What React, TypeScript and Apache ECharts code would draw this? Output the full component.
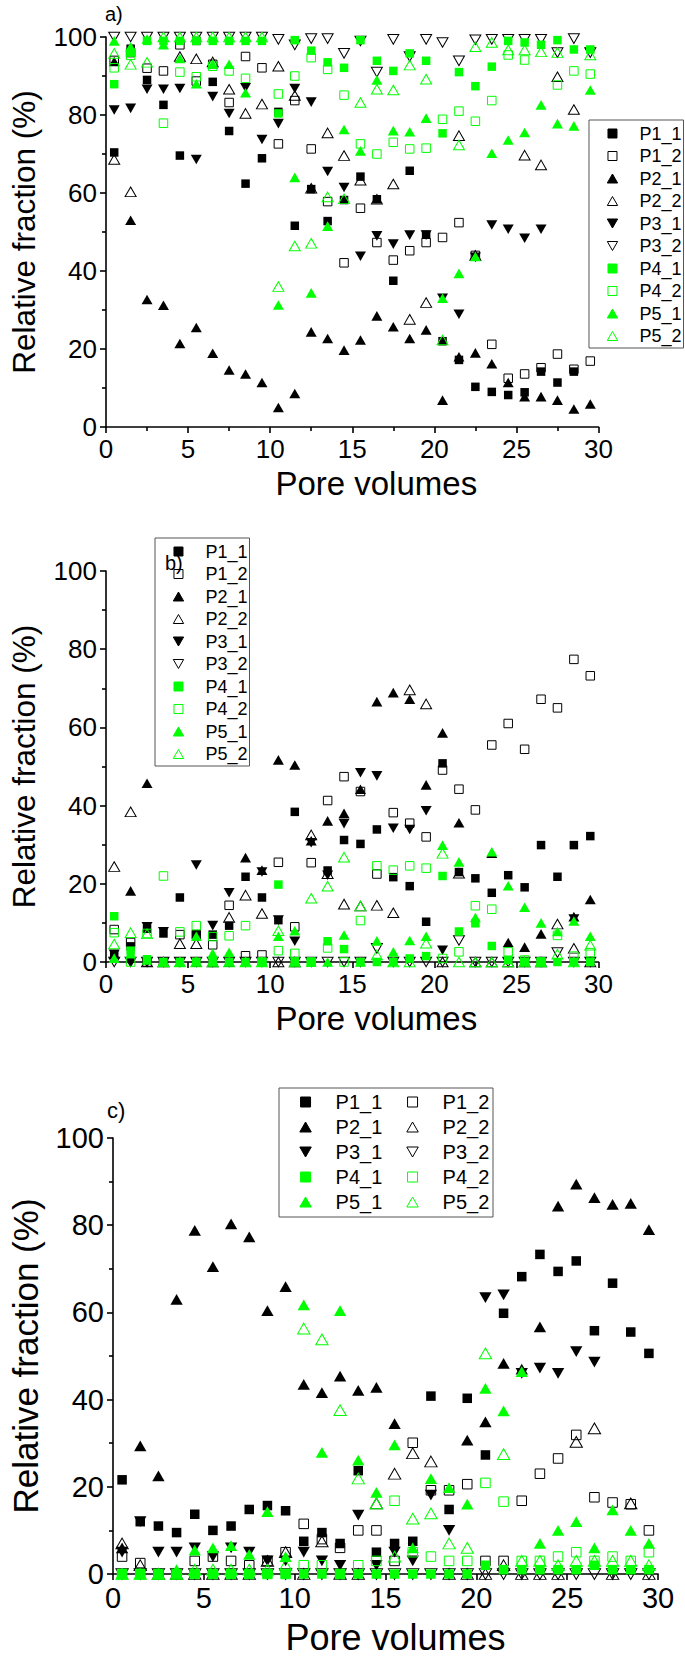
import React, { useEffect, useRef } from 'react';
import * as echarts from 'echarts';

// ---------- data ----------
const poreVolumes = [0.5, 1.5, 2.5, 3.5, 4.5, 5.5, 6.5, 7.5, 8.5, 9.5, 10.5, 11.5, 12.5, 13.5, 14.5, 15.5, 16.5, 17.5, 18.5, 19.5, 20.5, 21.5, 22.5, 23.5, 24.5, 25.5, 26.5, 27.5, 28.5, 29.5];

const seriesNames = ['P1_1', 'P1_2', 'P2_1', 'P2_2', 'P3_1', 'P3_2', 'P4_1', 'P4_2', 'P5_1', 'P5_2'];
const legendColumn1 = ['P1_1', 'P2_1', 'P3_1', 'P4_1', 'P5_1'];
const legendColumn2 = ['P1_2', 'P2_2', 'P3_2', 'P4_2', 'P5_2'];
const panelLabels = ['a)', 'b)', 'c)'];
const xAxisTitle = 'Pore volumes';
const yAxisTitle = 'Relative fraction (%)';

// Panel a
const aP1_1 = [70.4, 97, 89, 82.6, 69.6, 99, 88.5, 75.9, 62.4, 68.9, 80.8, 51.6, 61, 52.8, 58.2, 64.2, 58.4, 37.5, 65.7, 49.3, 22, 17.2, 10.3, 9, 8.2, 8.9, 14.2, 11.4, 14.2, null];
const aP1_2 = [94, 96, 92, 91.3, 98, 88.7, 93, 83.2, 95, 92.1, 72.6, 83.7, 71.3, 57.8, 42.1, 56.1, 47.3, 42.8, 45.2, 47.3, 48.6, 52.4, 44, 21.2, 12.5, 13.6, 15.2, 18.7, 14.8, 16.9];
const aP2_1 = [93.7, 53, 32.7, 31.2, 21.4, 25.5, 18.9, 14.6, 13.6, 11.4, 5, 8.6, 24.4, 22.7, 19.7, 22.3, 28.5, 25.7, 22.7, 24.9, 6.9, 18, 19, 16.2, 11.4, 7.8, 7.8, 6.9, 4.6, 5.9];
const aP2_2 = [68.6, 60.3, null, null, 95, 94.4, 93.6, 86.6, 80.4, 82.8, 92.5, 85, 61.2, 75.4, 69.6, 63.3, 58.4, 62.3, 27.6, 31.9, null, 74.7, 44, null, null, 69.7, 67.2, 89.8, 81.4, null];
const aP3_1 = [81.3, 81.7, 86.6, 86.6, 86.8, 68.6, 84.7, 80.4, 87, 73.7, 77.8, 86.8, 83.3, 65.5, 61.4, 43.8, 49, 46.9, 49.2, 49.2, 33, 28.9, 43.5, 51.8, 50.7, 48.4, 50.7, null, null, null];
const aP3_2 = [100, 100, 100, 100, 100, 100, 100, 100, 100, 100, 99.4, 98, 99.6, 99.6, 95.8, 99, 91, 99.4, 95, 99.4, 98.6, 93.9, 99.3, 99.4, 99.4, 99.4, 99.4, 96, 99.6, 96];
const aP4_1 = [87.9, 96, 99, 99, 99, 99, 99, 99, 99, 99, 80.4, 99.2, 96.5, 93.5, 92.1, 99.2, 93.9, 91.3, 95.8, 93.9, 75.3, 91, 87.4, 92.4, 99, 98.6, 98, 99.2, 96.8, 96.8];
const aP4_2 = [92.1, 95.3, null, 77.9, 91, 89.8, 92.5, 91.3, 89.4, null, 85.4, 90, 94.7, 91.7, 85.1, 72.6, 70, 73, 71.3, 71.5, 78.9, 81, 78.4, 83.7, 95.4, 94.1, null, 87.7, 91.3, 90.5];
const aP5_1 = [99, 97.5, 99.5, 98, 94.5, 88, 93, 93, 85.7, null, 31.3, 64, 34.4, 51.5, 76.3, 70.8, 89, 76, 75.7, 79.2, 33, 39.4, 43.7, 70.2, 73.6, 75.5, 82.6, 77.8, 77.2, 86.4];
const aP5_2 = [95.8, 93, 93.5, 100, 100, 100, 100, 100, 100, 100, 36, 46.4, 47.1, 59, 58.5, 83.2, 86.6, 86.4, 92.8, 89.2, 22.3, 72.3, 97.5, 98.6, 96.7, 96.7, 96.2, 96, null, 95.4];

// Panel b
const bP1_1 = [2, 4, 8.5, 7.3, 16.5, 7, 7, 9.3, 21.8, 16.5, 10.7, 38.4, null, 23.4, 31.2, 30.2, 33.9, 21.7, 19.4, 10.3, 50.8, 23, 21.4, 17.7, 22.2, 19.1, 29.9, 21.8, 29.9, 32.2];
const bP1_2 = [8.3, 5, 0, 0, 7, 7, 4.4, 14.5, 1.6, 1.8, 25.5, 9, 25.4, 41.3, 47.4, 43.6, 22.5, 38.2, 35.5, 32, 49.1, 44.2, 38.9, 55.5, 61, 54.4, 67.2, 65, 77.4, 73.2];
const bP2_1 = [2, 18.2, 45.7, 0, 0, 0, 0, 0, 26.7, 23.5, 51.7, 50.4, 31, 36.1, 38, 44.2, 66.6, 68.9, 67.2, 45.3, 58.6, 35.6, null, 27.8, 5, 3.8, 7.2, null, 11.6, 16];
const bP2_2 = [24.4, 38.4, 0, 0, 4.7, 4.7, 0, 11.4, 17.1, 12.4, 0, 0, 32.5, 22.6, 14.8, 14.3, 14.5, 12.6, 69.6, 66, 0, 22.7, 0, 0, 0, 0, 0, 9.7, 3.5, 0];
const bP3_1 = [2, 0, 9, 7.7, 0, 24.8, 9.3, 17.7, 0, 23, 10.7, 5.3, 30.5, 22.2, 35.4, 48.4, 47.6, 34.2, 33.9, 38.7, 3, null, null, null, null, null, null, null, 11, null];
const bP3_2 = [0, 0, 0, 0, 0, 0, 0, 0, 0, 0, 0, 0, 0, 0, 0, 0, 3.5, 0, 0, 0, 0, 5.5, 0, 0, 0, 0, 0, 2.4, 0, 0];
const bP4_1 = [11.7, 2.9, 0.7, 0, 0, 0, 0, 0, 0, 0, 19.8, 0, 0, 5.3, 3.3, 0, 0, 0, 0.9, 1.5, 22, 7.8, 9.9, 4.1, 0.5, 0, 0, 0, 0, 0];
const bP4_2 = [7.5, 0, 7.3, 22, 7.7, 9.3, 6.5, 6.7, 9.3, 0, 2.9, 2.2, 0, 3.6, 0, 10.6, 24.6, 23.5, 24.6, 24, 0.9, 2.6, 14.4, 13.5, 2.6, 0.5, 0, 6.8, 1.5, 2.4];
const bP5_1 = [1, 2.2, 0.5, 0, 0, 6.6, 2.2, 2.5, 0, 0, 6.6, 8, 0, 0, 6.9, 0, 5.4, 2.6, 5.5, 6.6, 29.9, 25.6, 11.4, 28.2, 19.5, 14, 10, 7.8, 10.5, 6.6];
const bP5_2 = [4.6, 7.5, 7.2, 0, 0, 0, 0, 0, 0, 0, 8, 0, 16.3, 19.4, 26.8, 14.3, 1.8, 0, 0, 4.8, 27.8, 0, 0, 0, 0, 0, 0, 2, 0, 4.3];

// Panel c
const cP1_1 = [21.6, 12, 11, 9.5, 13.7, 10, 11, 14.8, 15.7, 14.5, 7.5, 9.5, 7, 23.7, 5, 7, 7.5, 40.8, 14.8, 40.3, 27.3, 59.8, 68.2, 73.3, 69.4, 71.8, 55.8, 66.7, 55.5, 50.6];
const cP1_2 = [4, 2.5, 0, 0, 3, 4, 3, 2, 3, 5, 11.5, 8, 6, 10, 10, 3, 30.1, 19.2, 19.2, 20.6, 3, 3, 16.8, 23, 26.5, 31.9, 17.6, 16.4, 16, 10];
const cP2_1 = [6, 29.4, 22.5, 63, 78.8, 70.5, 80.3, 77.3, 60.4, 65.9, 43.5, 41.6, 45.4, 42.1, 42.8, 34.5, null, null, null, 30.7, 34.9, 48.3, 47, 56.7, 84.4, 89.4, 86.3, 84.8, 85, 79];
const cP2_2 = [7, 2, 0, 0, 0, 0, 0, 0, 3, 5, 0, 7.5, 0, 0, 16.2, 23, 27.7, 25.8, 0, 0, 0, 2, 0, 0, 0, 30.3, 33.4, 0, 16.2, 0];
const cP3_1 = [5, 12, 5, 5, 6, 4, 6, 5, 3, 3, 5, 3, 2, 13.5, 2, 5, 3, 18.1, 10, null, 63.4, 64, 46, 47.2, 46, 51, 48.6, null, null, null];
const cP3_2 = [0, 0, 0, 0, 0, 0, 0, 0, 0, 0, 0, 0, 0, 0, 0, 0, 0, 0, 0, 0, 0, 0, 0, 0, 0, 0, 0, 0, 0, 0];
const cP4_1 = [0, 0, 0, 0, 0, 0, 0, 0, 0, 0, 0, 0, 0, 0, 0, 0, 0, 0, 0, 0, 2, 1, 1, 1, 1, 1, 2, 1, 1, 1];
const cP4_2 = [0, 0, 0, 0, 0, 0, 0, 0, 0, 0, 2, 2, 0, 2, 3, 16.8, 5, 4, 3, 3, 20.9, 16.6, 3, 3, 4, 5, 3, 4, 3, 5];
const cP5_1 = [0, 0, 0, 1, 5.5, 6, 6.5, 4.5, 14.3, 4, 61.7, 27.9, 60.4, 26.1, 18.7, 29.6, 6, 21.9, 19.8, 16, 42.6, 37.4, 46.4, 7, 10, 12, 6, 14.7, 10, 7];
const cP5_2 = [0, 0, 0, 0, 1, 1, 1, 1, 1, 2, 56.3, 53.8, 37.6, 21.9, 16.2, 4, 12.7, 13.9, 7, 6, 50.6, 27.5, 3, 3, 2, 3, 3, 3, 3, 2];

const panelA = [aP1_1, aP1_2, aP2_1, aP2_2, aP3_1, aP3_2, aP4_1, aP4_2, aP5_1, aP5_2];
const panelB = [bP1_1, bP1_2, bP2_1, bP2_2, bP3_1, bP3_2, bP4_1, bP4_2, bP5_1, bP5_2];
const panelC = [cP1_1, cP1_2, cP2_1, cP2_2, cP3_1, cP3_2, cP4_1, cP4_2, cP5_1, cP5_2];

// ---------- styles ----------
const BLACK = '#000000';
const GREEN = '#00ff00';
const SQUARE = 'path://M0,0L10,0L10,10L0,10Z';
const UP = 'path://M5,0L10,8.7L0,8.7Z';
const DOWN = 'path://M0,0L10,0L5,8.7Z';
const FONT = '"Liberation Sans", Arial, Helvetica, sans-serif';

const markerKinds = [
  { symbol: SQUARE, color: BLACK, filled: true },
  { symbol: SQUARE, color: BLACK, filled: false },
  { symbol: UP, color: BLACK, filled: true },
  { symbol: UP, color: BLACK, filled: false },
  { symbol: DOWN, color: BLACK, filled: true },
  { symbol: DOWN, color: BLACK, filled: false },
  { symbol: SQUARE, color: GREEN, filled: true },
  { symbol: SQUARE, color: GREEN, filled: false },
  { symbol: UP, color: GREEN, filled: true },
  { symbol: UP, color: GREEN, filled: false },
];

const grids = [
  { left: 104.3, top: 37, width: 494.2, height: 390, scale: 1, tick: 26, xName: 33, yName: 31.5, xGap: 40, yGap: 66, xShift: 48 },
  { left: 104.3, top: 571, width: 494.2, height: 391, scale: 1, tick: 26, xName: 33, yName: 31.5, xGap: 40, yGap: 66, xShift: 48 },
  { left: 104.3, top: 1138, width: 553.7, height: 436, scale: 1.12, tick: 29, xName: 36, yName: 35, xGap: 45, yGap: 70, xShift: 20 },
];

function buildSeries(panelIdx: number, values: (number | null)[][], scale: number) {
  return seriesNames.map((name, k) => {
    const kind = markerKinds[k];
    const isSquare = kind.symbol === SQUARE;
    const size = isSquare ? [8.5 * scale, 8.5 * scale] : [11 * scale, 9.6 * scale];
    const data = poreVolumes
      .map((x, i) => [x, values[k][i]])
      .filter((d) => d[1] !== null && d[1] !== undefined);
    return {
      type: 'scatter',
      name,
      xAxisIndex: panelIdx,
      yAxisIndex: panelIdx,
      clip: false,
      symbol: kind.symbol,
      symbolSize: size,
      itemStyle: kind.filled
        ? { color: kind.color, borderColor: kind.color, borderWidth: 0, opacity: 1 }
        : { color: 'rgba(255,255,255,0)', borderColor: kind.color, borderWidth: 1, opacity: 1 },
      emphasis: { disabled: true },
      data,
    };
  });
}

function axisCommon(g: any) {
  return {
    axisLine: { show: true, onZero: false, lineStyle: { color: BLACK, width: 1.6 } },
    axisTick: { show: true, inside: false, length: 6, lineStyle: { color: BLACK, width: 1.6 } },
    minorTick: { show: true, splitNumber: 2, length: 4, lineStyle: { color: BLACK, width: 1.6 } },
    splitLine: { show: false },
    axisLabel: { color: BLACK, fontSize: g.tick, fontFamily: FONT, margin: 9 },
  };
}

export default function App() {
  const ref = useRef<HTMLDivElement>(null);

  useEffect(() => {
    if (!ref.current) return;
    const chart = echarts.init(ref.current, undefined, { renderer: 'svg' });

    const panels = [panelA, panelB, panelC];
    const series: any[] = [];
    panels.forEach((p, i) => series.push(...buildSeries(i, p, grids[i].scale)));

    const xAxes = grids.map((g, i) => ({
      type: 'value',
      gridIndex: i,
      min: 0,
      max: 30,
      interval: 5,
      name: xAxisTitle,
      nameLocation: 'middle',
      nameGap: g.xGap,
      nameTextStyle: { color: BLACK, fontSize: g.xName, fontFamily: FONT, padding: [0, 0, 0, g.xShift] },
      ...axisCommon(g),
    }));
    const yAxes = grids.map((g, i) => ({
      type: 'value',
      gridIndex: i,
      min: 0,
      max: 100,
      interval: 20,
      name: yAxisTitle,
      nameLocation: 'middle',
      nameGap: g.yGap,
      nameTextStyle: { color: BLACK, fontSize: g.yName, fontFamily: FONT },
      ...axisCommon(g),
    }));

    const legendText = { color: BLACK, fontFamily: FONT };
    const boxedLegend = (left: number, top: number) => ({
      data: seriesNames,
      orient: 'vertical',
      left,
      top,
      padding: [4.5, 2, 3, 17.8],
      itemWidth: 44,
      itemHeight: 9,
      itemGap: 4.5,
      borderColor: '#555',
      borderWidth: 1,
      backgroundColor: '#fff',
      selectedMode: false,
      itemStyle: { borderWidth: 1 },
      textStyle: { ...legendText, fontSize: 18, lineHeight: 18 },
    });
    const columnLegend = (data: string[], left: number) => ({
      data,
      orient: 'vertical',
      left,
      top: 1092,
      padding: 0,
      itemWidth: 50,
      itemHeight: 10,
      itemGap: 5,
      selectedMode: false,
      itemStyle: { borderWidth: 1 },
      textStyle: { ...legendText, fontSize: 20, lineHeight: 20 },
    });

    const legends = [
      boxedLegend(589, 120),
      boxedLegend(155, 538),
      columnLegend(legendColumn1, 299.3),
      columnLegend(legendColumn2, 406.3),
    ];

    const labelPos = [
      { left: 105, top: 4 },
      { left: 165, top: 553 },
      { left: 107, top: 1099 },
    ];

    chart.setOption({
      animation: false,
      backgroundColor: '#ffffff',
      textStyle: { fontFamily: FONT },
      grid: grids.map((g) => ({ left: g.left, top: g.top, width: g.width, height: g.height, containLabel: false })),
      xAxis: xAxes,
      yAxis: yAxes,
      legend: legends,
      graphic: [
        {
          type: 'rect',
          shape: { x: 279, y: 1088, width: 214, height: 129 },
          style: { fill: '#fff', stroke: '#555', lineWidth: 1 },
          z: 3,
        },
        ...panelLabels.map((t, i) => ({
          type: 'text',
          left: labelPos[i].left,
          top: labelPos[i].top,
          style: { text: t, fontSize: i === 2 ? 22 : 20, fontFamily: FONT, fill: BLACK },
          z: 5,
        })),
      ],
      series,
    });

    return () => chart.dispose();
  }, []);

  return <div ref={ref} style={{ position: 'absolute', left: 0, top: 0, width: 685, height: 1672 }} />;
}
